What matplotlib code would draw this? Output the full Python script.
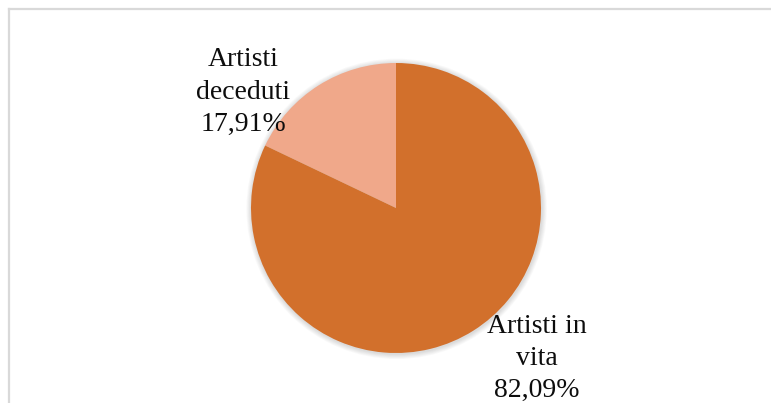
import matplotlib
matplotlib.use('Agg')
import matplotlib.pyplot as plt
from matplotlib.lines import Line2D
from matplotlib.patches import Circle

labels = ['Artisti\ndeceduti', 'Artisti in\nvita']
values = [17.91, 82.09]
colors = ['#F0A88A', '#D2702C']

W, H = 771, 403
fig = plt.figure(figsize=(W / 100, H / 100), dpi=100)
fig.patch.set_facecolor('white')

# chart frame, left and top edges only
fig.add_artist(Line2D([8.5 / W, 8.5 / W], [0, 1 - 9 / H], transform=fig.transFigure,
                      color='#D9D9D9', lw=1.6))
fig.add_artist(Line2D([8.5 / W, 1], [1 - 9 / H, 1 - 9 / H], transform=fig.transFigure,
                      color='#D9D9D9', lw=1.6))

cx, cy, r = 396, 208, 145
ax = fig.add_axes([(cx - r) / W, (H - cy - r) / H, 2 * r / W, 2 * r / H])
ax.set_xlim(-1, 1)
ax.set_ylim(-1, 1)
ax.axis('off')

# soft shadow around the pie
for i in range(6):
    ax.add_patch(Circle((0.004, -0.006), 1 + 0.006 * (i + 1), color='black',
                        alpha=0.022, lw=0, zorder=0, clip_on=False))

ax.pie(values, colors=colors, startangle=90, counterclock=True, radius=1,
       wedgeprops=dict(linewidth=0))
ax.set_xlim(-1, 1)
ax.set_ylim(-1, 1)

label_pos = [(-1.055, 0.80), (0.972, -1.035)]
for lab, v, (x, y) in zip(labels, values, label_pos):
    txt = lab + '\n' + f'{v:.2f}'.replace('.', ',') + '%'
    ax.text(x, y, txt, ha='center', va='center', fontsize=20,
            family='Liberation Serif', color='#0D0D0D', linespacing=1.37,
            clip_on=False)

fig.savefig('out.png', dpi=100)
